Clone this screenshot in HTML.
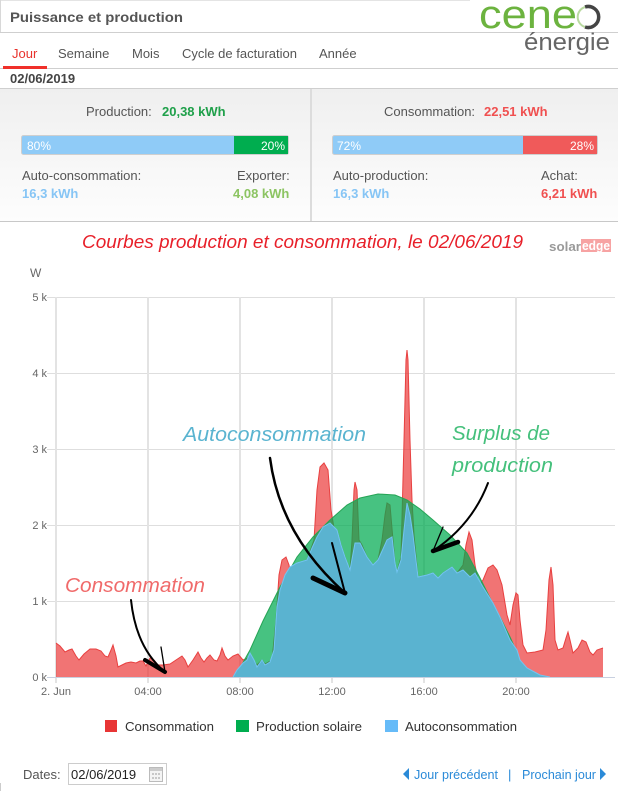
<!DOCTYPE html>
<html><head><meta charset="utf-8"><style>
html,body{margin:0;padding:0;background:#fff;}
svg{display:block;font-family:"Liberation Sans",Arial,sans-serif;}
</style></head><body>
<svg width="618" height="791" viewBox="0 0 618 791" xmlns="http://www.w3.org/2000/svg">
<defs>
<linearGradient id="sg" x1="0" y1="0" x2="0" y2="1"><stop offset="0" stop-color="#efefef"/><stop offset="1" stop-color="#fdfdfd"/></linearGradient>
</defs>
<rect x="0" y="0" width="618" height="791" fill="#fff"/>
<!-- header -->
<line x1="0" y1="0.5" x2="470" y2="0.5" stroke="#e4e4e4"/>
<line x1="0.5" y1="0" x2="0.5" y2="33" stroke="#d8d8d8"/>
<line x1="0" y1="32.5" x2="618" y2="32.5" stroke="#cfcfcf"/>
<text x="10" y="22" font-size="14" font-weight="bold" fill="#555" textLength="173" lengthAdjust="spacingAndGlyphs">Puissance et production</text>
<!-- logo -->
<text x="479" y="28" font-size="40" fill="#6cb33f" textLength="98" lengthAdjust="spacingAndGlyphs">cene</text>
<path d="M585,7 A10.5,10.5 0 1 1 585,27" fill="none" stroke="#444" stroke-width="3.5"/>
<path d="M585,27 A10.5,10.5 0 0 1 585,7" fill="none" stroke="#b9d9a0" stroke-width="2"/>
<text x="524" y="50" font-size="24" fill="#666" textLength="86" lengthAdjust="spacingAndGlyphs">énergie</text>
<!-- tabs -->
<text x="12" y="58" font-size="13" fill="#e8322c">Jour</text>
<text x="58" y="58" font-size="13" fill="#555">Semaine</text>
<text x="132" y="58" font-size="13" fill="#555">Mois</text>
<text x="182" y="58" font-size="13" fill="#555" textLength="115" lengthAdjust="spacingAndGlyphs">Cycle de facturation</text>
<text x="319" y="58" font-size="13" fill="#555">Année</text>
<line x1="0" y1="68.5" x2="618" y2="68.5" stroke="#cfcfcf"/>
<rect x="3" y="66" width="44" height="3" fill="#f0302a"/>
<text x="10" y="83" font-size="13" font-weight="bold" fill="#444">02/06/2019</text>
<line x1="0" y1="88.5" x2="618" y2="88.5" stroke="#cfcfcf"/>
<!-- stats -->
<rect x="0" y="89" width="618" height="132" fill="url(#sg)"/>
<rect x="310" y="89" width="2" height="132" fill="#dcdcdc"/>
<line x1="0" y1="221.5" x2="618" y2="221.5" stroke="#c8c8c8"/>
<text x="86" y="116" font-size="13" fill="#555">Production:</text>
<text x="162" y="116" font-size="13" font-weight="bold" fill="#1fa04a">20,38 kWh</text>
<text x="384" y="116" font-size="13" fill="#555">Consommation:</text>
<text x="484" y="116" font-size="13" font-weight="bold" fill="#f05050">22,51 kWh</text>
<rect x="21.5" y="135.5" width="267" height="19" rx="2" fill="#8fcbf7" stroke="#cfcfcf"/>
<rect x="234" y="136" width="54" height="18" fill="#00ad4f"/>
<text x="27" y="150" font-size="12" fill="#fff">80%</text>
<text x="285" y="150" font-size="12" fill="#fff" text-anchor="end">20%</text>
<rect x="332.5" y="135.5" width="265" height="19" rx="2" fill="#8fcbf7" stroke="#cfcfcf"/>
<rect x="523" y="136" width="74" height="18" fill="#f05a5a"/>
<text x="337" y="150" font-size="12" fill="#fff">72%</text>
<text x="594" y="150" font-size="12" fill="#fff" text-anchor="end">28%</text>
<text x="22" y="180" font-size="13" fill="#555">Auto-consommation:</text>
<text x="237" y="180" font-size="13" fill="#555">Exporter:</text>
<text x="22" y="198" font-size="13" font-weight="bold" fill="#86c5f5">16,3 kWh</text>
<text x="233" y="198" font-size="13" font-weight="bold" fill="#8cc462">4,08 kWh</text>
<text x="333" y="180" font-size="13" fill="#555">Auto-production:</text>
<text x="541" y="180" font-size="13" fill="#555">Achat:</text>
<text x="333" y="198" font-size="13" font-weight="bold" fill="#86c5f5">16,3 kWh</text>
<text x="541" y="198" font-size="13" font-weight="bold" fill="#f05050">6,21 kWh</text>
<!-- chart title -->
<text x="82" y="248" font-size="18" font-style="italic" fill="#e8202a" textLength="441" lengthAdjust="spacingAndGlyphs">Courbes production et consommation, le 02/06/2019</text>
<text x="549" y="251" font-size="13" font-weight="bold" fill="#9a9a9a" textLength="32" lengthAdjust="spacingAndGlyphs">solar</text>
<rect x="581" y="239" width="30" height="13" fill="#f7a3a3"/>
<text x="582" y="250" font-size="13" font-weight="bold" fill="#fff" textLength="28" lengthAdjust="spacingAndGlyphs">edge</text>
<text x="30" y="277" font-size="12" fill="#666">W</text>
<!-- grid -->
<g stroke="#dedede" stroke-width="1">
<line x1="47" y1="297.5" x2="615" y2="297.5"/>
<line x1="47" y1="373.5" x2="615" y2="373.5"/>
<line x1="47" y1="449.5" x2="615" y2="449.5"/>
<line x1="47" y1="525.5" x2="615" y2="525.5"/>
<line x1="47" y1="601.5" x2="615" y2="601.5"/>
</g>
<g stroke="#e3e3e3" stroke-width="2">
<line x1="56" y1="297" x2="56" y2="683"/>
<line x1="148" y1="297" x2="148" y2="683"/>
<line x1="240" y1="297" x2="240" y2="683"/>
<line x1="332" y1="297" x2="332" y2="683"/>
<line x1="424" y1="297" x2="424" y2="683"/>
<line x1="516" y1="297" x2="516" y2="683"/>
</g>
<g font-size="11" fill="#666" text-anchor="end">
<text x="47" y="301">5 k</text>
<text x="47" y="377">4 k</text>
<text x="47" y="453">3 k</text>
<text x="47" y="529">2 k</text>
<text x="47" y="605">1 k</text>
<text x="47" y="681">0 k</text>
</g>
<g font-size="11" fill="#666" text-anchor="middle">
<text x="56" y="695">2. Jun</text>
<text x="148" y="695">04:00</text>
<text x="240" y="695">08:00</text>
<text x="332" y="695">12:00</text>
<text x="424" y="695">16:00</text>
<text x="516" y="695">20:00</text>
</g>
<!-- red consumption -->
<polygon fill="rgba(235,50,50,0.68)" points="56,677 56,643 60,646 65,652 69,650 72,649 76,656 79,660 84,654 90,649 96,649 101,651 105,656 108,657 111,650 113,645 116,656 118,667 122,665 126,663 131,662 136,663 140,661 143,661 146,666 150,658 154,660 158,665 163,665 170,664 176,660 182,656 185,660 188,667 193,660 198,652 201,658 204,662 207,658 210,655 214,660 217,661 220,655 222,648 225,656 228,660 233,656 238,654 243,660 250,657 257,665 262,660 265,664 272,660 276,620 279,575 282,560 286,557 289,565 292,585 297,563 307,560 314,540 317,490 320,467 324,463 328,470 331,510 334,528 337,530 341,545 345,557 350,570 352,540 354,490 355,482 357,490 359,540 362,545 367,557 373,565 378,560 382,540 385,515 387,503 390,505 393,540 395,563 397,572 401,557 404,440 406,360 407,350 408,360 410,440 412,500 414,535 418,577 427,575 433,573 438,578 443,573 452,567 457,573 463,565 466,545 469,532 472,540 475,565 479,585 483,580 488,568 493,565 497,570 502,585 507,615 510,625 513,605 516,593 518,595 520,620 523,645 527,653 535,652 543,650 546,630 549,580 551,567 553,585 555,640 558,650 563,648 566,638 568,632 570,640 573,653 578,648 582,640 586,642 590,652 593,655 597,650 603,648 603,677"/>
<polyline fill="none" stroke="#e84040" stroke-width="1" points="56,643 60,646 65,652 69,650 72,649 76,656 79,660 84,654 90,649 96,649 101,651 105,656 108,657 111,650 113,645 116,656 118,667 122,665 126,663 131,662 136,663 140,661 143,661 146,666 150,658 154,660 158,665 163,665 170,664 176,660 182,656 185,660 188,667 193,660 198,652 201,658 204,662 207,658 210,655 214,660 217,661 220,655 222,648 225,656 228,660 233,656 238,654 243,660 250,657 257,665 262,660 265,664 272,660 276,620 279,575 282,560 286,557 289,565 292,585 297,563 307,560 314,540 317,490 320,467 324,463 328,470 331,510 334,528 337,530 341,545 345,557 350,570 352,540 354,490 355,482 357,490 359,540 362,545 367,557 373,565 378,560 382,540 385,515 387,503 390,505 393,540 395,563 397,572 401,557 404,440 406,360 407,350 408,360 410,440 412,500 414,535 418,577 427,575 433,573 438,578 443,573 452,567 457,573 463,565 466,545 469,532 472,540 475,565 479,585 483,580 488,568 493,565 497,570 502,585 507,615 510,625 513,605 516,593 518,595 520,620 523,645 527,653 535,652 543,650 546,630 549,580 551,567 553,585 555,640 558,650 563,648 566,638 568,632 570,640 573,653 578,648 582,640 586,642 590,652 593,655 597,650 603,648"/>
<!-- green production -->
<polygon fill="rgba(0,170,80,0.72)" points="233,677 240,668 250,650 263,621 280,587 297,557 313,537 330,520 347,505 360,498 378,494 395,495 407,500 420,509 433,520 450,535 467,553 480,578 490,598 500,617 510,637 515,648 520,663 525,673 530,677"/>
<polyline fill="none" stroke="#25a455" stroke-width="1" points="233,677 240,668 250,650 263,621 280,587 297,557 313,537 330,520 347,505 360,498 378,494 395,495 407,500 420,509 433,520 450,535 467,553 480,578 490,598 500,617 510,637 515,648 520,663 525,673 530,677"/>
<!-- blue autoconsommation -->
<polygon fill="#5ab3d0" points="233,677 237,670 243,663 247,660 250,653 254,660 257,667 262,660 265,665 270,662 274,650 277,607 280,590 285,575 290,567 297,563 307,560 312,548 317,537 323,527 330,523 337,530 341,545 345,557 350,570 355,543 360,543 367,557 373,565 378,560 387,540 392,537 395,563 397,572 401,560 404,530 407,503 410,515 413,535 418,577 427,575 433,573 438,578 443,573 452,567 457,573 463,570 470,577 475,573 483,587 493,603 500,617 510,640 517,650 520,660 527,668 540,675 550,677"/>
<polyline fill="none" stroke="#72c4f2" stroke-width="1" points="233,677 237,670 243,663 247,660 250,653 254,660 257,667 262,660 265,665 270,662 274,650 277,607 280,590 285,575 290,567 297,563 307,560 312,548 317,537 323,527 330,523 337,530 341,545 345,557 350,570 355,543 360,543 367,557 373,565 378,560 387,540 392,537 395,563 397,572 401,560 404,530 407,503 410,515 413,535 418,577 427,575 433,573 438,578 443,573 452,567 457,573 463,570 470,577 475,573 483,587 493,603 500,617 510,640 517,650 520,660 527,668 540,675 550,677"/>
<line x1="47" y1="677.5" x2="615" y2="677.5" stroke="#c8d0e0" stroke-width="1"/>
<!-- annotations -->
<text x="183" y="441" font-size="20" font-style="italic" fill="#5ab4d0" textLength="183" lengthAdjust="spacingAndGlyphs">Autoconsommation</text>
<text x="452" y="440" font-size="20" font-style="italic" fill="#45c07c" textLength="98" lengthAdjust="spacingAndGlyphs">Surplus de</text>
<text x="452" y="472" font-size="20" font-style="italic" fill="#45c07c" textLength="101" lengthAdjust="spacingAndGlyphs">production</text>
<text x="65" y="592" font-size="20" font-style="italic" fill="#f06a6a" textLength="140" lengthAdjust="spacingAndGlyphs">Consommation</text>
<g fill="none" stroke="#000" stroke-linecap="round">
<path d="M131,600 Q136,648 165,672" stroke-width="2"/>
<path d="M145,660 L165,672" stroke-width="4"/>
<path d="M161,647 L165,672" stroke-width="1.3"/>
<path d="M270,458 Q280,535 345,593" stroke-width="2.5"/>
<path d="M313,578 L345,593" stroke-width="5"/>
<path d="M332,543 L345,593" stroke-width="2"/>
<path d="M488,483 Q472,525 433,551" stroke-width="2"/>
<path d="M458,542 L433,551" stroke-width="4.5"/>
<path d="M443,527 L433,551" stroke-width="1.3"/>
</g>
<!-- legend -->
<rect x="105" y="720" width="12" height="12" fill="#e83535"/>
<text x="125" y="731" font-size="13" fill="#333" textLength="89" lengthAdjust="spacingAndGlyphs">Consommation</text>
<rect x="236" y="720" width="13" height="12" fill="#00ad4f"/>
<text x="256" y="731" font-size="13" fill="#333" textLength="106" lengthAdjust="spacingAndGlyphs">Production solaire</text>
<rect x="385" y="720" width="13" height="12" fill="#66bbf8"/>
<text x="405" y="731" font-size="13" fill="#333" textLength="112" lengthAdjust="spacingAndGlyphs">Autoconsommation</text>
<!-- footer -->
<text x="23" y="779" font-size="13" fill="#555">Dates:</text>
<rect x="68.5" y="763.5" width="98" height="21" fill="#fff" stroke="#cccccc"/>
<text x="71" y="779" font-size="13" fill="#222">02/06/2019</text>
<rect x="149.5" y="767.5" width="13" height="14" fill="#f4f4f4" stroke="#bbb"/>
<rect x="150" y="768" width="12" height="3" fill="#ccc"/>
<g fill="#c8c8c8"><rect x="152" y="773" width="2" height="2"/><rect x="155" y="773" width="2" height="2"/><rect x="158" y="773" width="2" height="2"/><rect x="152" y="777" width="2" height="2"/><rect x="155" y="777" width="2" height="2"/><rect x="158" y="777" width="2" height="2"/></g>
<polygon points="409,768 409,780 403,774" fill="#2a8ad8"/>
<text x="414" y="779" font-size="13" fill="#2a8ad8" textLength="84" lengthAdjust="spacingAndGlyphs">Jour précédent</text>
<text x="508" y="779" font-size="13" fill="#2a8ad8">|</text>
<text x="522" y="779" font-size="13" fill="#2a8ad8" textLength="74" lengthAdjust="spacingAndGlyphs">Prochain jour</text>
<polygon points="600,768 600,780 606,774" fill="#2a8ad8"/>
<line x1="0.5" y1="783" x2="0.5" y2="791" stroke="#ccc"/>
</svg>
</body></html>
